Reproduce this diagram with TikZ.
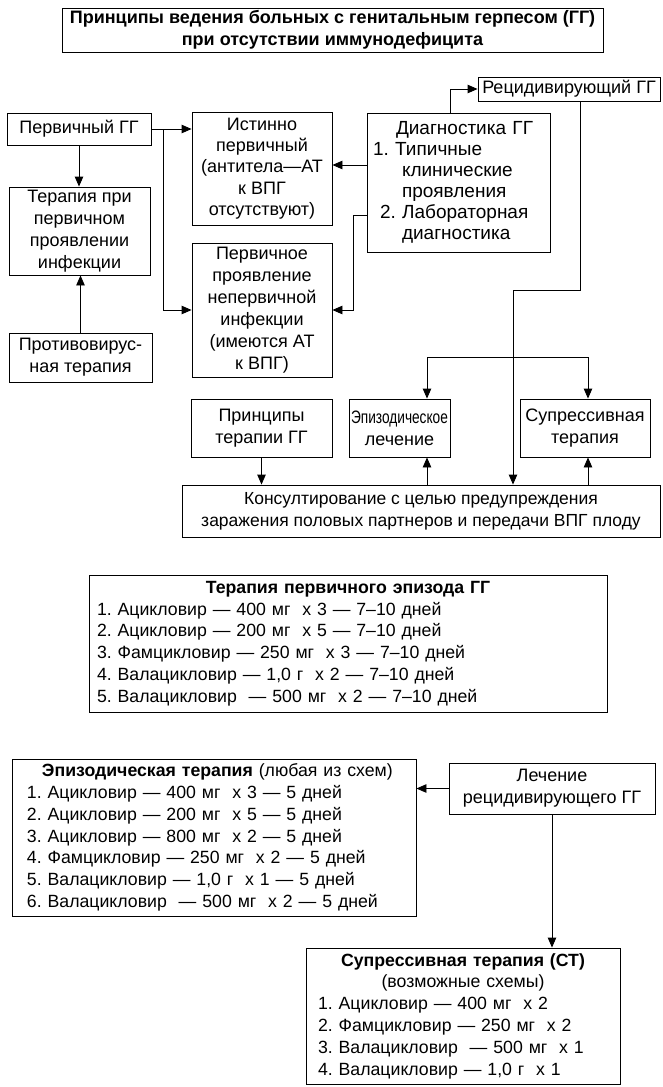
\documentclass[tikz,border=0pt]{standalone}
\usepackage{fontspec}
\setmainfont{Liberation Sans}
\usetikzlibrary{arrows.meta}
\frenchspacing
\newcommand\mybox[7][]{\node[box,#1,minimum width={(#5-#3)*1pt},minimum height={(#6-#4)*1pt}] (#2) at ({(#3+#5)/2},{(#4+#6)/2}) {#7};}
\begin{document}
\begin{tikzpicture}[x=1pt,y=-1pt,
 box/.style={draw,line width=0.9pt,inner sep=0pt,align=center,font=\fontsize{18}{22}\selectfont},
 lst/.style={align=left,font=\fontsize{17.7}{21.8}\selectfont},
 arr/.style={line width=0.9pt,-{Triangle[length=10pt,width=8.5pt]}},
 darr/.style={line width=0.9pt,{Triangle[length=10pt,width=8.5pt]}-{Triangle[length=10pt,width=8.5pt]}}]
\useasboundingbox[fill=white] (0,0) rectangle (663,1087);

\mybox{title}{62}{8}{603}{52}{\textbf{Принципы ведения больных с генитальным герпесом (ГГ)}\\\textbf{при отсутствии иммунодефицита}}
\mybox{rc}{478}{77}{660}{101}{Рецидивирующий ГГ}
\mybox{pg}{7}{113}{151}{145}{Первичный ГГ}
\mybox[font=\fontsize{18}{21.3}\selectfont]{ist}{192}{112}{332}{225}{Истинно\\первичный\\(антитела—АТ\\к ВПГ\\отсутствуют)}
\mybox[align=left,text width=175pt,font=\fontsize{19}{21}\selectfont]{dg}{367}{113}{550}{252}{\hspace*{25pt}Диагностика ГГ\\\hspace*{2pt}1. Типичные\\\hspace*{31pt}клинические\\\hspace*{31pt}проявления\\\hspace*{9pt}2. Лабораторная\\\hspace*{31pt}диагностика}
\mybox{tp}{9}{187}{150}{275}{Терапия при\\первичном\\проявлении\\инфекции}
\mybox{pe}{192}{243}{332}{377}{Первичное\\проявление\\непервичной\\инфекции\\(имеются АТ\\к ВПГ)}
\mybox{pv}{9}{333}{152}{382}{Противовирус-\\ная терапия}
\mybox{pr}{191}{399}{332}{457}{Принципы\\терапии ГГ}
\mybox{ep}{349}{399}{450}{457}{\scalebox{0.76}[1]{Эпизодическое}\\лечение}
\mybox{sp}{520}{399}{650}{457}{Супрессивная\\терапия}
\mybox[font=\fontsize{17.5}{22}\selectfont]{kn}{182}{485}{660}{537}{Консултирование с целью предупреждения\\заражения половых партнеров и передачи ВПГ плоду}
\mybox[lst,text width=502pt]{tpe}{89}{575}{607}{712}{\makebox[502pt][c]{\textbf{Терапия первичного эпизода ГГ}}\\1. Ацикловир — 400 мг\ \ х 3 — 7–10 дней\\2. Ацикловир — 200 мг\ \ х 5 — 7–10 дней\\3. Фамцикловир — 250 мг\ \ х 3 — 7–10 дней\\4. Валацикловир — 1,0 г\ \ х 2 — 7–10 дней\\5. Валацикловир\ \ — 500 мг\ \ х 2 — 7–10 дней}
\mybox[lst,text width=374pt]{et}{12}{759}{416}{916}{\hspace*{15pt}\textbf{Эпизодическая терапия} (любая из схем)\\1. Ацикловир — 400 мг\ \ х 3 — 5 дней\\2. Ацикловир — 200 мг\ \ х 5 — 5 дней\\3. Ацикловир — 800 мг\ \ х 2 — 5 дней\\4. Фамцикловир — 250 мг\ \ х 2 — 5 дней\\5. Валацикловир — 1,0 г\ \ х 1 — 5 дней\\6. Валацикловир\ \ — 500 мг\ \ х 2 — 5 дней}
\mybox{lr}{449}{763}{655}{814}{Лечение\\рецидивирующего ГГ}
\mybox[lst,text width=290pt]{st}{306}{948}{620}{1084}{\makebox[290pt][c]{\textbf{Супрессивная терапия (СТ)}}\\\makebox[290pt][c]{(возможные схемы)}\\1. Ацикловир — 400 мг\ \ х 2\\2. Фамцикловир — 250 мг\ \ х 2\\3. Валацикловир\ \ — 500 мг\ \ х 1\\4. Валацикловир — 1,0 г\ \ х 1}

% connectors
\draw[arr] (pg.east) -- (pg.east -| ist.west);
\draw[arr] ([xshift=12pt]pg.east) |- (pe.west);
\draw[arr] (pg.south) -- (pg.south |- tp.north);
\draw[arr] (pv.north) -- (pv.north |- tp.south);
\draw[arr] ([yshift=17.5pt]dg.west) -- ([yshift=17.5pt]dg.west -| ist.east);
\draw[arr] ([yshift=-32.5pt]dg.west) -| ([xshift=21pt]pe.east) -- (pe.east);
\draw[arr] ([xshift=-8.5pt]dg.north) |- (rc.west);
\draw[arr] ([xshift=11pt]rc.south) -- ++(0,189) -| ([xshift=92pt]kn.north);
\draw[darr] ([xshift=27.5pt]ep.north) -- ++(0,-41) -| ([xshift=3pt]sp.north);
\draw[arr] (pr.south) -- (pr.south |- kn.north);
\draw[arr] ([xshift=27.5pt]ep.south |- kn.north) -- ([xshift=27.5pt]ep.south);
\draw[arr] ([xshift=3pt]sp.south |- kn.north) -- ([xshift=3pt]sp.south);
\draw[arr] (lr.west) -- (lr.west -| et.east);
\draw[arr] (lr.south) -- (lr.south |- st.north);
\end{tikzpicture}
\end{document}
